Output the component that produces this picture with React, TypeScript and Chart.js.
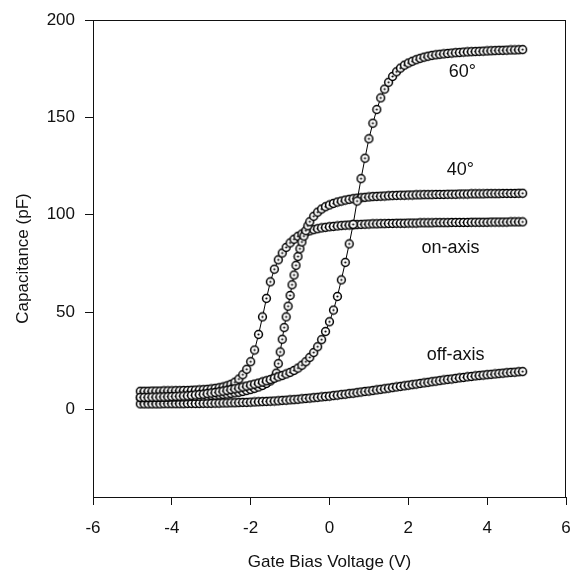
import { useEffect, useRef } from 'react';
import { Chart, registerables } from 'chart.js';

Chart.register(...registerables);

// Gate bias voltage grid (V)
const voltage = [
  -4.8, -4.7, -4.6, -4.5, -4.4, -4.3, -4.2, -4.1, -4.0, -3.9,
  -3.8, -3.7, -3.6, -3.5, -3.4, -3.3, -3.2, -3.1, -3.0, -2.9,
  -2.8, -2.7, -2.6, -2.5, -2.4, -2.3, -2.2, -2.1, -2.0, -1.9,
  -1.8, -1.7, -1.6, -1.5, -1.4, -1.3, -1.2, -1.1, -1.0, -0.9,
  -0.8, -0.7, -0.6, -0.5, -0.4, -0.3, -0.2, -0.1, 0.0, 0.1,
  0.2, 0.3, 0.4, 0.5, 0.6, 0.7, 0.8, 0.9, 1.0, 1.1,
  1.2, 1.3, 1.4, 1.5, 1.6, 1.7, 1.8, 1.9, 2.0, 2.1,
  2.2, 2.3, 2.4, 2.5, 2.6, 2.7, 2.8, 2.9, 3.0, 3.1,
  3.2, 3.3, 3.4, 3.5, 3.6, 3.7, 3.8, 3.9, 4.0, 4.1,
  4.2, 4.3, 4.4, 4.5, 4.6, 4.7, 4.8, 4.9,
];

// 40° sweep has a finer step through its transition
const voltage40 = [
  -4.8, -4.7, -4.6, -4.5, -4.4, -4.3, -4.2, -4.1, -4.0, -3.9,
  -3.8, -3.7, -3.6, -3.5, -3.4, -3.3, -3.2, -3.1, -3.0, -2.9,
  -2.8, -2.7, -2.6, -2.5, -2.4, -2.3, -2.2, -2.1, -2.0, -1.9,
  -1.8, -1.7, -1.6, -1.5, -1.4,
  -1.35, -1.3, -1.25, -1.2, -1.15, -1.1, -1.05, -1.0, -0.95, -0.9,
  -0.85, -0.8, -0.75, -0.7, -0.65, -0.6, -0.55,
  -0.5, -0.4, -0.3, -0.2, -0.1, 0.0, 0.1, 0.2, 0.3, 0.4,
  0.5, 0.6, 0.7, 0.8, 0.9, 1.0, 1.1, 1.2, 1.3, 1.4,
  1.5, 1.6, 1.7, 1.8, 1.9, 2.0, 2.1, 2.2, 2.3, 2.4,
  2.5, 2.6, 2.7, 2.8, 2.9, 3.0, 3.1, 3.2, 3.3, 3.4,
  3.5, 3.6, 3.7, 3.8, 3.9, 4.0, 4.1, 4.2, 4.3, 4.4,
  4.5, 4.6, 4.7, 4.8, 4.9,
];

// Capacitance (pF)
const cap60 = [
  6.2, 6.2, 6.2, 6.3, 6.3, 6.4, 6.4, 6.5, 6.6, 6.7,
  6.8, 6.9, 7.0, 7.2, 7.4, 7.6, 7.8, 8.1, 8.4, 8.7,
  9.0, 9.4, 9.8, 10.2, 10.6, 11.0, 11.5, 12.0, 12.5, 13.0,
  13.5, 14.1, 14.7, 15.3, 16.0, 16.7, 17.4, 18.2, 19.0, 20.0,
  21.2, 22.7, 24.5, 26.7, 29.2, 32.2, 35.8, 40.0, 45.0, 51.0,
  58.0, 66.5, 75.5, 85.0, 95.0, 107.0, 118.5, 129.0, 139.0, 147.0,
  154.0, 160.0, 164.5, 168.0, 171.0, 173.4, 175.3, 176.8, 177.9, 178.8,
  179.6, 180.3, 180.9, 181.4, 181.8, 182.1, 182.4, 182.6, 182.8, 183.0,
  183.2, 183.3, 183.5, 183.6, 183.7, 183.8, 183.9, 184.0, 184.1, 184.2,
  184.3, 184.4, 184.4, 184.5, 184.6, 184.6, 184.7, 184.8,
];

const cap40 = [
  6.0, 6.0, 6.0, 6.1, 6.1, 6.1, 6.2, 6.2, 6.3, 6.3,
  6.4, 6.4, 6.5, 6.6, 6.7, 6.8, 6.9, 7.0, 7.2, 7.3,
  7.5, 7.7, 7.9, 8.2, 8.5, 8.8, 9.2, 9.7, 10.2, 10.8,
  11.5, 12.3, 13.3, 14.6, 16.3,
  18.6, 23.5, 29.5, 36.0, 42.0, 47.5, 53.0, 58.5, 64.0, 69.0,
  74.0, 78.5, 82.5, 86.0, 89.0, 91.8, 94.3,
  96.4, 99.2, 101.3, 102.9, 104.1, 105.0, 105.8, 106.5, 107.0, 107.5,
  107.9, 108.2, 108.5, 108.7, 108.9, 109.1, 109.3, 109.4, 109.5, 109.6,
  109.7, 109.8, 109.9, 110.0, 110.0, 110.1, 110.1, 110.2, 110.2, 110.3,
  110.3, 110.3, 110.4, 110.4, 110.4, 110.5, 110.5, 110.5, 110.6, 110.6,
  110.6, 110.7, 110.7, 110.7, 110.7, 110.8, 110.8, 110.8, 110.8, 110.9,
  110.9, 110.9, 110.9, 111.0, 111.0,
];

const capOnAxis = [
  9.3, 9.3, 9.3, 9.4, 9.4, 9.4, 9.5, 9.5, 9.5, 9.6,
  9.6, 9.7, 9.7, 9.8, 9.9, 10.0, 10.1, 10.3, 10.5, 10.8,
  11.1, 11.5, 12.1, 12.9, 14.0, 15.6, 17.8, 20.6, 24.5, 30.5,
  38.5, 47.5, 57.0, 65.5, 72.0, 76.8, 80.3, 83.2, 85.5, 87.4,
  88.9, 90.1, 91.0, 91.7, 92.3, 92.8, 93.2, 93.5, 93.8, 94.0,
  94.2, 94.4, 94.6, 94.7, 94.8, 94.9, 95.0, 95.1, 95.2, 95.3,
  95.3, 95.4, 95.4, 95.5, 95.5, 95.6, 95.6, 95.6, 95.7, 95.7,
  95.7, 95.8, 95.8, 95.8, 95.8, 95.9, 95.9, 95.9, 95.9, 96.0,
  96.0, 96.0, 96.0, 96.0, 96.1, 96.1, 96.1, 96.1, 96.1, 96.2,
  96.2, 96.2, 96.2, 96.2, 96.3, 96.3, 96.3, 96.3,
];

const capOffAxis = [
  2.8, 2.8, 2.8, 2.8, 2.8, 2.8, 2.9, 2.9, 2.9, 2.9,
  2.9, 2.9, 3.0, 3.0, 3.0, 3.0, 3.1, 3.1, 3.1, 3.2,
  3.2, 3.3, 3.3, 3.4, 3.4, 3.5, 3.6, 3.6, 3.7, 3.8,
  3.9, 4.0, 4.1, 4.2, 4.3, 4.4, 4.6, 4.7, 4.9, 5.0,
  5.2, 5.4, 5.6, 5.8, 6.0, 6.2, 6.4, 6.6, 6.8, 7.1,
  7.3, 7.6, 7.8, 8.1, 8.3, 8.6, 8.9, 9.2, 9.4, 9.7,
  10.0, 10.3, 10.6, 10.9, 11.2, 11.5, 11.8, 12.1, 12.4, 12.7,
  13.0, 13.3, 13.6, 13.9, 14.2, 14.5, 14.8, 15.1, 15.4, 15.6,
  15.9, 16.2, 16.4, 16.7, 16.9, 17.2, 17.4, 17.6, 17.8, 18.0,
  18.2, 18.4, 18.6, 18.8, 19.0, 19.1, 19.3, 19.4,
];

const yTickValues = [0, 50, 100, 150, 200];

// Curve annotations (text at data coordinates V, pF)
const curveLabels = [
  { text: '60°', v: 3.37, c: 173.5 },
  { text: '40°', v: 3.32, c: 123 },
  { text: 'on-axis', v: 3.07, c: 83 },
  { text: 'off-axis', v: 3.2, c: 27.8 },
];

const FONT = "'Liberation Sans', Arial, sans-serif";

function makeMarker(): HTMLCanvasElement {
  const c = document.createElement('canvas');
  c.width = 11;
  c.height = 11;
  const g = c.getContext('2d')!;
  g.beginPath();
  g.arc(5.5, 5.5, 3.9, 0, Math.PI * 2);
  g.fillStyle = '#ffffff';
  g.fill();
  g.lineWidth = 1.5;
  g.strokeStyle = '#000000';
  g.stroke();
  g.beginPath();
  g.arc(5.5, 5.5, 1.1, 0, Math.PI * 2);
  g.fillStyle = '#000000';
  g.fill();
  return c;
}

function pairs(xs: number[], ys: number[]) {
  return xs.map((x, i) => ({ x, y: ys[i] }));
}

export default function App() {
  const ref = useRef<HTMLCanvasElement | null>(null);

  useEffect(() => {
    if (!ref.current) return;
    const marker = makeMarker();
    const ds = (label: string, xs: number[], ys: number[]) => ({
      label,
      data: pairs(xs, ys),
      showLine: true,
      borderColor: '#000000',
      borderWidth: 1,
      pointStyle: marker,
      pointRadius: 4,
      tension: 0,
    });

    const framePlugin = {
      id: 'frameAndLabels',
      afterDraw(chart: any) {
        const { ctx, chartArea, scales } = chart;
        ctx.save();
        ctx.strokeStyle = '#111111';
        ctx.lineWidth = 1;
        ctx.beginPath();
        ctx.moveTo(chartArea.left, chartArea.top + 0.5);
        ctx.lineTo(chartArea.right, chartArea.top + 0.5);
        ctx.moveTo(chartArea.right - 0.5, chartArea.top);
        ctx.lineTo(chartArea.right - 0.5, chartArea.bottom);
        ctx.stroke();
        ctx.fillStyle = '#111111';
        ctx.font = `18px ${FONT}`;
        ctx.textAlign = 'center';
        ctx.textBaseline = 'middle';
        for (const l of curveLabels) {
          ctx.fillText(l.text, scales.x.getPixelForValue(l.v), scales.y.getPixelForValue(l.c));
        }
        ctx.restore();
      },
    };

    const chart = new Chart(ref.current, {
      type: 'scatter',
      data: {
        datasets: [
          ds('60°', voltage, cap60),
          ds('40°', voltage40, cap40),
          ds('on-axis', voltage, capOnAxis),
          ds('off-axis', voltage, capOffAxis),
        ],
      },
      options: {
        animation: false,
        responsive: false,
        layout: { padding: { top: 20, right: 4, left: 0, bottom: 0 } },
        plugins: { legend: { display: false }, tooltip: { enabled: false } },
        scales: {
          x: {
            type: 'linear',
            min: -6,
            max: 6,
            afterFit: (s: any) => { s.height = 78; s.paddingLeft = 0; s.paddingRight = 0; },
            grid: { drawOnChartArea: false, drawTicks: true, tickLength: 8, color: '#111111' },
            border: { display: true, color: '#111111', width: 1 },
            ticks: {
              stepSize: 2,
              padding: 13,
              color: '#111111',
              font: { family: FONT, size: 17 },
              callback: (v: any) => String(v),
            },
            title: {
              display: true,
              text: 'Gate Bias Voltage (V)',
              color: '#111111',
              font: { family: FONT, size: 17 },
              padding: { top: 0, bottom: 2 },
            },
          },
          y: {
            type: 'linear',
            min: -45,
            max: 200,
            afterFit: (s: any) => { s.width = 93; s.paddingTop = 0; s.paddingBottom = 0; },
            afterBuildTicks: (s: any) => { s.ticks = yTickValues.map((value) => ({ value })); },
            grid: { drawOnChartArea: false, drawTicks: true, tickLength: 8, color: '#111111' },
            border: { display: true, color: '#111111', width: 1 },
            ticks: {
              padding: 10,
              color: '#111111',
              font: { family: FONT, size: 17 },
              callback: (v: any) => String(v),
            },
            title: {
              display: true,
              text: 'Capacitance (pF)',
              color: '#111111',
              font: { family: FONT, size: 17 },
              padding: { top: 13, bottom: 0 },
            },
          },
        },
      },
      plugins: [framePlugin],
    } as any);

    return () => chart.destroy();
  }, []);

  return (
    <div style={{ position: 'fixed', left: 0, top: 0, width: 571, height: 575, background: '#fff', overflow: 'hidden' }}>
      <canvas ref={ref} width={571} height={575} style={{ display: 'block', width: 571, height: 575 }} />
    </div>
  );
}
